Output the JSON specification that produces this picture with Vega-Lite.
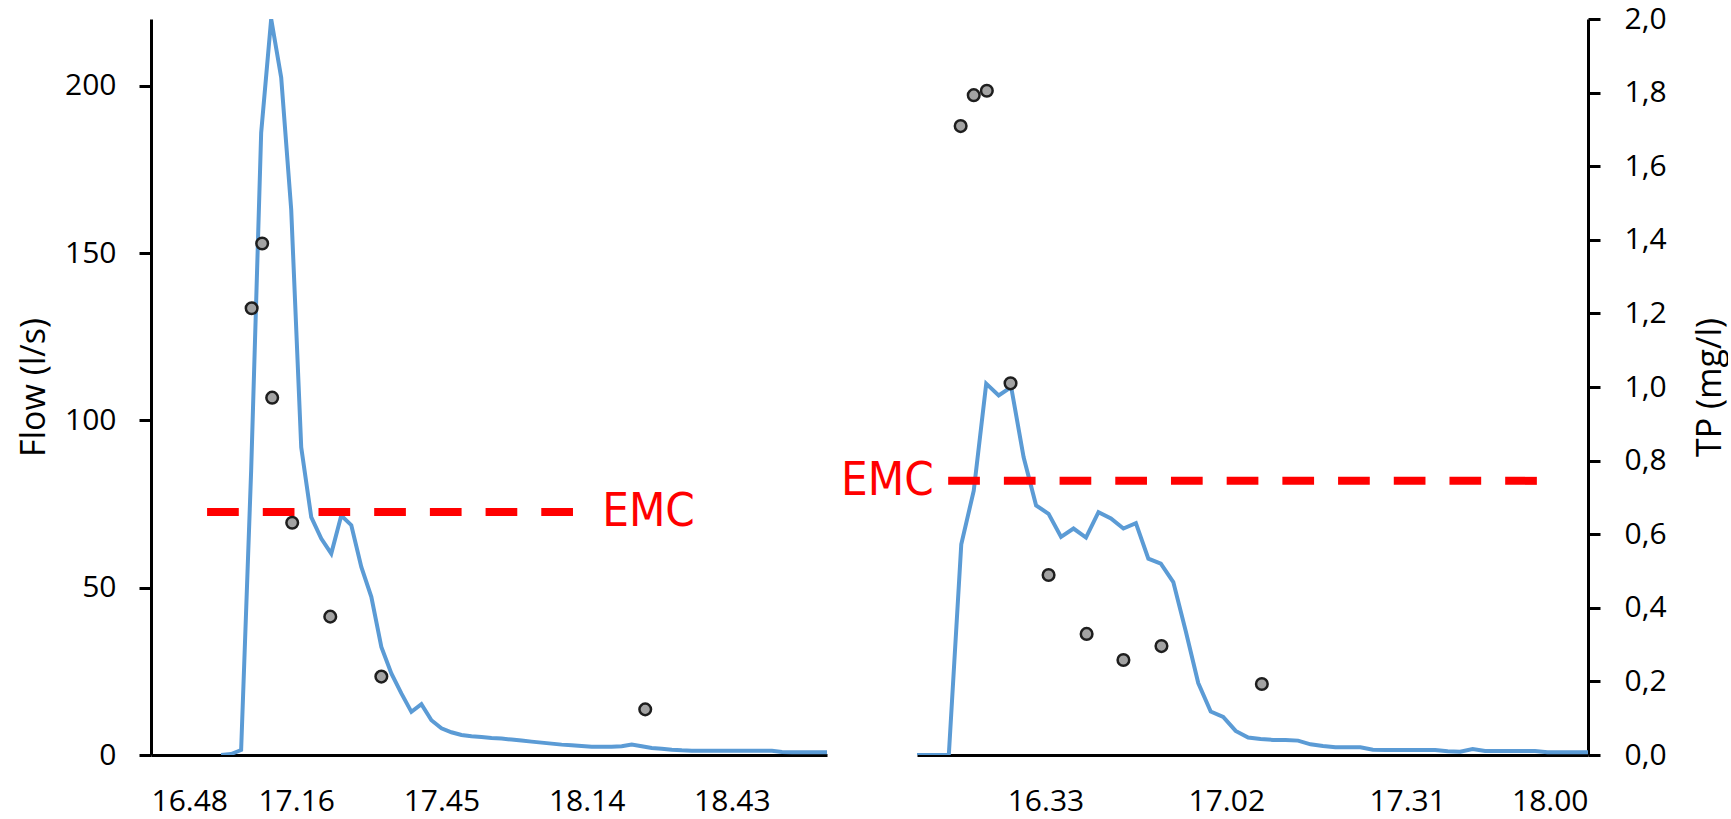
{
  "$schema": "https://vega.github.io/schema/vega-lite/v6.json",
  "background": "white",
  "padding": {"left": 17, "top": 4, "right": 0, "bottom": 0},
  "bounds": "flush",
  "spacing": 90,
  "config": {
    "view": {"stroke": null},
    "font": "Open Sans",
    "axis": {
      "grid": false,
      "domainColor": "black",
      "domainWidth": 3,
      "tickColor": "black",
      "tickWidth": 3,
      "labelColor": "black",
      "labelFont": "Open Sans",
      "labelFontSize": 30,
      "titleColor": "black",
      "titleFont": "Open Sans",
      "titleFontSize": 34,
      "titleFontWeight": "normal"
    }
  },
  "datasets": {
    "flowA": [
      {"t": 14, "flow": 0}, {"t": 16, "flow": 0.3}, {"t": 18, "flow": 1.5}, {"t": 20, "flow": 85},
      {"t": 22, "flow": 186}, {"t": 24, "flow": 220}, {"t": 26, "flow": 202.5}, {"t": 28, "flow": 163},
      {"t": 30, "flow": 92}, {"t": 32, "flow": 71.1}, {"t": 34, "flow": 64.7}, {"t": 36, "flow": 60.2},
      {"t": 38, "flow": 71.6}, {"t": 40, "flow": 68.7}, {"t": 42, "flow": 56.2}, {"t": 44, "flow": 47.3},
      {"t": 46, "flow": 32.3}, {"t": 48, "flow": 24.4}, {"t": 50, "flow": 18.4}, {"t": 52, "flow": 12.9},
      {"t": 54, "flow": 15.2}, {"t": 56, "flow": 10.4}, {"t": 58, "flow": 8}, {"t": 60, "flow": 6.8},
      {"t": 62, "flow": 6.0}, {"t": 64, "flow": 5.6}, {"t": 66, "flow": 5.4}, {"t": 68, "flow": 5.1},
      {"t": 70, "flow": 4.9}, {"t": 72, "flow": 4.6}, {"t": 74, "flow": 4.3}, {"t": 76, "flow": 4.0},
      {"t": 78, "flow": 3.7}, {"t": 80, "flow": 3.4}, {"t": 82, "flow": 3.1}, {"t": 84, "flow": 2.9},
      {"t": 86, "flow": 2.7}, {"t": 88, "flow": 2.5}, {"t": 90, "flow": 2.5}, {"t": 92, "flow": 2.5},
      {"t": 94, "flow": 2.6}, {"t": 96, "flow": 3.1}, {"t": 98, "flow": 2.6}, {"t": 100, "flow": 2.1},
      {"t": 102, "flow": 1.9}, {"t": 104, "flow": 1.6}, {"t": 106, "flow": 1.4}, {"t": 108, "flow": 1.3},
      {"t": 110, "flow": 1.3}, {"t": 112, "flow": 1.3}, {"t": 114, "flow": 1.3}, {"t": 116, "flow": 1.3},
      {"t": 118, "flow": 1.3}, {"t": 120, "flow": 1.3}, {"t": 122, "flow": 1.3}, {"t": 124, "flow": 1.3},
      {"t": 126, "flow": 0.9}, {"t": 128, "flow": 0.8}, {"t": 130, "flow": 0.8}, {"t": 132, "flow": 0.8},
      {"t": 134, "flow": 0.8}, {"t": 136, "flow": 0.8}
    ],
    "tpA": [
      {"t": 20.1, "tp": 1.214}, {"t": 22.2, "tp": 1.39}, {"t": 24.2, "tp": 0.971}, {"t": 28.2, "tp": 0.631},
      {"t": 35.8, "tp": 0.376}, {"t": 46, "tp": 0.213}, {"t": 98.7, "tp": 0.124}
    ],
    "flowB": [
      {"t": -21.5, "flow": 0}, {"t": -19.5, "flow": 0}, {"t": -17.5, "flow": 0}, {"t": -15.5, "flow": 0},
      {"t": -13.5, "flow": 63}, {"t": -11.5, "flow": 79}, {"t": -9.5, "flow": 111}, {"t": -7.5, "flow": 107.5},
      {"t": -5.5, "flow": 110}, {"t": -3.5, "flow": 89}, {"t": -1.5, "flow": 74.6}, {"t": 0.5, "flow": 72.1},
      {"t": 2.5, "flow": 65.2}, {"t": 4.5, "flow": 67.7}, {"t": 6.5, "flow": 65}, {"t": 8.5, "flow": 72.6},
      {"t": 10.5, "flow": 70.7}, {"t": 12.5, "flow": 67.7}, {"t": 14.5, "flow": 69.3}, {"t": 16.5, "flow": 58.7},
      {"t": 18.5, "flow": 57.2}, {"t": 20.5, "flow": 51.7}, {"t": 22.5, "flow": 37}, {"t": 24.5, "flow": 21.5},
      {"t": 26.5, "flow": 13}, {"t": 28.5, "flow": 11.4}, {"t": 30.5, "flow": 7.2}, {"t": 32.5, "flow": 5.2},
      {"t": 34.5, "flow": 4.8}, {"t": 36.5, "flow": 4.5}, {"t": 38.5, "flow": 4.5}, {"t": 40.5, "flow": 4.3},
      {"t": 42.5, "flow": 3.2}, {"t": 44.5, "flow": 2.7}, {"t": 46.5, "flow": 2.3}, {"t": 48.5, "flow": 2.3},
      {"t": 50.5, "flow": 2.3}, {"t": 52.5, "flow": 1.6}, {"t": 54.5, "flow": 1.5}, {"t": 56.5, "flow": 1.5},
      {"t": 58.5, "flow": 1.5}, {"t": 60.5, "flow": 1.5}, {"t": 62.5, "flow": 1.5}, {"t": 64.5, "flow": 1.1},
      {"t": 66.5, "flow": 1.0}, {"t": 68.5, "flow": 1.8}, {"t": 70.5, "flow": 1.2}, {"t": 72.5, "flow": 1.2},
      {"t": 74.5, "flow": 1.2}, {"t": 76.5, "flow": 1.2}, {"t": 78.5, "flow": 1.2}, {"t": 80.5, "flow": 0.8},
      {"t": 82.5, "flow": 0.8}, {"t": 84.5, "flow": 0.8}, {"t": 86.5, "flow": 0.8}, {"t": 88.5, "flow": 0.8}
    ],
    "tpB": [
      {"t": -13.6, "tp": 1.709}, {"t": -11.5, "tp": 1.793}, {"t": -9.4, "tp": 1.805}, {"t": -5.6, "tp": 1.01},
      {"t": 0.5, "tp": 0.489}, {"t": 6.6, "tp": 0.329}, {"t": 12.5, "tp": 0.258}, {"t": 18.6, "tp": 0.296},
      {"t": 34.7, "tp": 0.193}
    ],
    "emcA": [{"t": 11.2, "t2": 84.7, "tp": 0.66, "label_t": 90.1, "label": "EMC"}],
    "emcB": [{"t": -15.6, "t2": 78.8, "tp": 0.745, "label_t": -17.9, "label": "EMC"}]
  },
  "hconcat": [
    {
      "width": 676,
      "height": 736,
      "layer": [
        {
          "data": {"name": "flowA"},
          "mark": {"type": "line", "color": "#5b9bd5", "strokeWidth": 4, "clip": true},
          "encoding": {
            "x": {
              "field": "t", "type": "quantitative",
              "scale": {"domain": [0, 135], "nice": false, "zero": false},
              "axis": {
                "title": null, "values": [0, 29, 58, 87, 116], "ticks": false, "tickSize": 0,
                "labelPadding": 31,
                "labelExpr": "datum.value == 0 ? '16.48' : datum.value == 29 ? '17.16' : datum.value == 58 ? '17.45' : datum.value == 87 ? '18.14' : '18.43'"
              }
            },
            "y": {
              "field": "flow", "type": "quantitative",
              "scale": {"domain": [0, 220], "nice": false},
              "axis": {"title": "Flow (l/s)", "values": [0, 50, 100, 150, 200], "tickSize": 12, "labelPadding": 23, "titlePadding": 13}
            }
          }
        },
        {
          "data": {"name": "emcA"},
          "mark": {"type": "rule", "color": "#ff0000", "strokeWidth": 8, "strokeDash": [31.7, 24]},
          "encoding": {
            "x": {"field": "t", "type": "quantitative"},
            "x2": {"field": "t2"},
            "y": {"field": "tp", "type": "quantitative", "scale": {"domain": [0, 2], "nice": false}, "axis": null}
          }
        },
        {
          "data": {"name": "emcA"},
          "mark": {"type": "text", "color": "#ff0000", "font": "Liberation Sans Narrow, DejaVu Sans Condensed, sans-serif", "fontSize": 47, "align": "left", "baseline": "middle"},
          "encoding": {
            "x": {"field": "label_t", "type": "quantitative"},
            "y": {"field": "tp", "type": "quantitative", "scale": {"domain": [0, 2], "nice": false}, "axis": null},
            "text": {"field": "label"}
          }
        },
        {
          "data": {"name": "tpA"},
          "mark": {"type": "circle", "size": 135, "fill": "#a3a3a3", "stroke": "#1e1e1e", "strokeWidth": 2.5, "opacity": 1},
          "encoding": {
            "x": {"field": "t", "type": "quantitative"},
            "y": {"field": "tp", "type": "quantitative", "scale": {"domain": [0, 2], "nice": false}, "axis": null}
          }
        }
      ],
      "resolve": {"scale": {"y": "independent"}}
    },
    {
      "width": 671,
      "height": 736,
      "layer": [
        {
          "data": {"name": "flowB"},
          "mark": {"type": "line", "color": "#5b9bd5", "strokeWidth": 4, "clip": true},
          "encoding": {
            "x": {
              "field": "t", "type": "quantitative",
              "scale": {"domain": [-20.6, 87], "nice": false, "zero": false},
              "axis": {
                "title": null, "values": [0, 29, 58, 87], "ticks": false, "tickSize": 0,
                "labelPadding": 31,
                "labelExpr": "datum.value == 0 ? '16.33' : datum.value == 29 ? '17.02' : datum.value == 58 ? '17.31' : '18.00'"
              }
            },
            "y": {
              "field": "flow", "type": "quantitative",
              "scale": {"domain": [0, 220], "nice": false},
              "axis": null
            }
          }
        },
        {
          "data": {"name": "emcB"},
          "mark": {"type": "rule", "color": "#ff0000", "strokeWidth": 8, "strokeDash": [31.7, 24]},
          "encoding": {
            "x": {"field": "t", "type": "quantitative"},
            "x2": {"field": "t2"},
            "y": {"field": "tp", "type": "quantitative", "scale": {"domain": [0, 2], "nice": false}, "axis": null}
          }
        },
        {
          "data": {"name": "emcB"},
          "mark": {"type": "text", "color": "#ff0000", "font": "Liberation Sans Narrow, DejaVu Sans Condensed, sans-serif", "fontSize": 47, "align": "right", "baseline": "middle"},
          "encoding": {
            "x": {"field": "label_t", "type": "quantitative"},
            "y": {"field": "tp", "type": "quantitative", "scale": {"domain": [0, 2], "nice": false}, "axis": null},
            "text": {"field": "label"}
          }
        },
        {
          "data": {"name": "tpB"},
          "mark": {"type": "circle", "size": 135, "fill": "#a3a3a3", "stroke": "#1e1e1e", "strokeWidth": 2.5, "opacity": 1},
          "encoding": {
            "x": {"field": "t", "type": "quantitative"},
            "y": {
              "field": "tp", "type": "quantitative", "scale": {"domain": [0, 2], "nice": false},
              "axis": {
                "orient": "right", "title": "TP (mg/l)", "titleAngle": -90, "titleBaseline": "top",
                "values": [0, 0.2, 0.4, 0.6, 0.8, 1.0, 1.2, 1.4, 1.6, 1.8, 2.0],
                "tickSize": 12, "labelPadding": 24, "titlePadding": 27,
                "labelExpr": "replace(format(datum.value, '.1f'), '.', ',')"
              }
            }
          }
        }
      ],
      "resolve": {"scale": {"y": "independent"}}
    }
  ]
}
